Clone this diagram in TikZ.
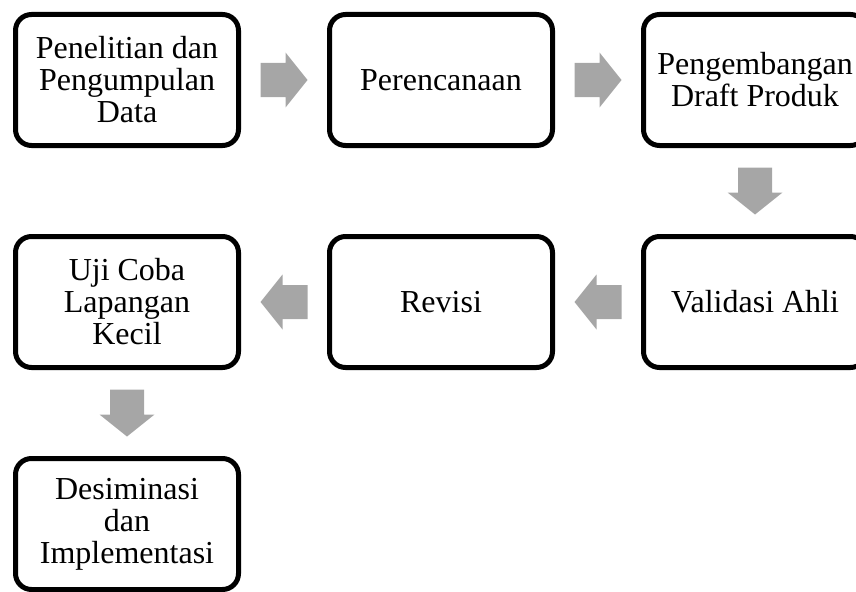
\documentclass[tikz,border=0pt]{standalone}
\usepackage{fontspec}
\setmainfont{Liberation Serif}
\usetikzlibrary{positioning,calc}
\definecolor{panahabu}{RGB}{166,166,166}
\begin{document}
\begin{tikzpicture}[x=0.75pt, y=-0.75pt, node distance=64.5pt and 64.5pt,
	tahap/.style={draw, line width=3.75pt, rounded corners=12pt, minimum width=167.25pt, minimum height=98.25pt,
		inner sep=2pt, align=center, font=\fontsize{24}{24}\selectfont},
	panah/.pic={\fill[panahabu] (-23.5,-17) -- (1.5,-17) -- (1.5,-27.5) -- (23.5,0) -- (1.5,27.5) -- (1.5,17) -- (-23.5,17) -- cycle;}]
	% 1. bidang gambar (kotak kanan & bawah terpotong tepi)
	\useasboundingbox (0,0) rectangle (856,592);
	\clip (0,0) rectangle (856,592);
	
	% 2. tahapan penelitian
	\node[tahap] (teliti) at (127,80) {Penelitian dan\\Pengumpulan\\Data};
	\node[tahap, right=of teliti] (rencana) {Perencanaan};
	\node[tahap, right=of rencana] (draft) {Pengembangan\\Draft Produk};
	\node[tahap, below=of draft] (validasi) {Validasi Ahli};
	\node[tahap, left=of validasi] (revisi) {Revisi};
	\node[tahap, left=of revisi] (ujicoba) {Uji Coba\\Lapangan\\Kecil};
	\node[tahap, below=of ujicoba] (desiminasi) {Desiminasi\\dan\\Implementasi};
	
	% 3. panah abu-abu di antara tahapan
	\pic at ($(teliti.east)!0.5!(rencana.west)$) {panah};
	\pic at ($(rencana.east)!0.5!(draft.west)$) {panah};
	\pic[rotate=-90] at ($(draft.south)!0.5!(validasi.north)$) {panah};
	\pic[rotate=180] at ($(validasi.west)!0.5!(revisi.east)$) {panah};
	\pic[rotate=180] at ($(revisi.west)!0.5!(ujicoba.east)$) {panah};
	\pic[rotate=-90] at ($(ujicoba.south)!0.5!(desiminasi.north)$) {panah};
\end{tikzpicture}
\end{document}
